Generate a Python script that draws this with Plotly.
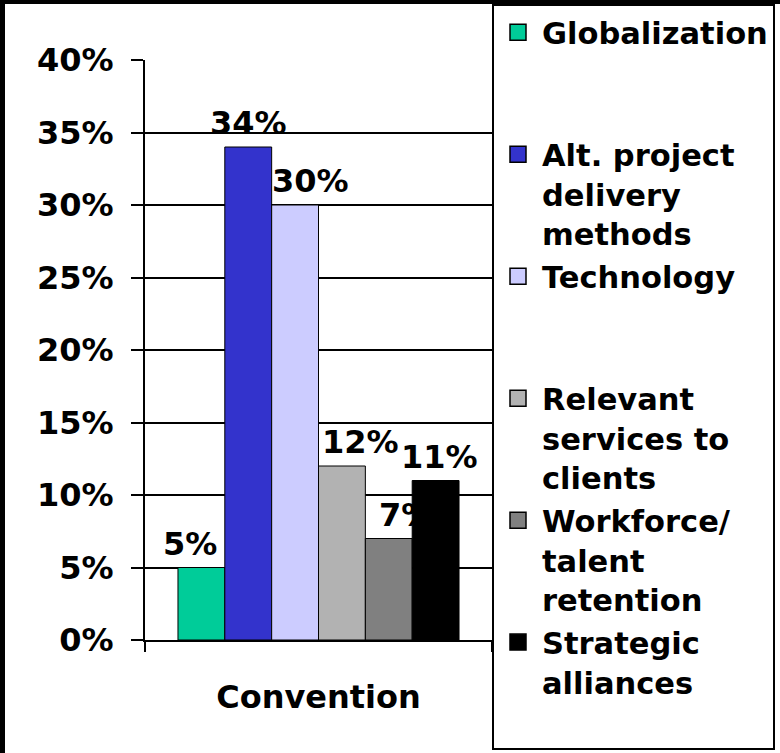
import plotly.graph_objects as go

# ---- data ----
CATEGORIES = ["Convention"]
SERIES = [
    "Globalization",
    "Alt. project delivery methods",
    "Technology",
    "Relevant services to clients",
    "Workforce/ talent retention",
    "Strategic alliances",
]
# legend text as it wraps in the original (each slot is three lines tall)
LEGEND_LINES = [
    ["Globalization"],
    ["Alt. project", "delivery", "methods"],
    ["Technology"],
    ["Relevant", "services to", "clients"],
    ["Workforce/", "talent", "retention"],
    ["Strategic", "alliances"],
]
VALUES = [5, 34, 30, 12, 7, 11]  # percent
COLORS = ["#00CC99", "#3333CC", "#CCCCFF", "#B2B2B2", "#808080", "#000000"]
Y_TICKS = [0, 5, 10, 15, 20, 25, 30, 35, 40]
Y_TICK_TEXT = [f"{v}%" for v in Y_TICKS]

# value labels in the original are nudged sideways a little (pixels)
LABEL_NUDGE = [-11, 0, 15, 19, 17, 4]

# ---- geometry (pixels) ----
W, H = 780, 753
PLOT_L, PLOT_R, PLOT_T, PLOT_B = 145, 492, 60, 640
FONT = "DejaVu Sans"
FS = 32
LEG_FS = 30.5
BARGAP = 0.19


def px_to_paper_x(px):
    return (px - PLOT_L) / (PLOT_R - PLOT_L)


def px_to_paper_y(py):
    return (PLOT_B - py) / (PLOT_B - PLOT_T)


fig = go.Figure()

# bars (no legend, proxies below give the bigger legend squares)
for name, val, col in zip(SERIES, VALUES, COLORS):
    fig.add_trace(go.Bar(
        x=CATEGORIES, y=[val], name=name,
        marker=dict(color=col, line=dict(color="black", width=1)),
        showlegend=False, hoverinfo="skip",
    ))

# value labels, placed at each grouped bar's centre
n = len(VALUES)
slot = (1 - BARGAP) / n
for i, (val, nudge) in enumerate(zip(VALUES, LABEL_NUDGE)):
    fig.add_annotation(
        x=(i - (n - 1) / 2) * slot, y=val, xref="x", yref="y",
        text=f"{val}%", showarrow=False,
        xanchor="center", yanchor="middle", xshift=nudge, yshift=24,
        font=dict(family=FONT, size=FS, color="black", weight="bold"),
    )

# legend entries
for lines, col in zip(LEGEND_LINES, COLORS):
    padded = lines + [" "] * (3 - len(lines))
    fig.add_trace(go.Scatter(
        x=[None], y=[None], mode="markers",
        name="<br>".join(padded),
        marker=dict(symbol="square", size=16, color=col,
                    line=dict(color="black", width=1.5)),
        showlegend=True, hoverinfo="skip",
    ))

fig.update_layout(
    width=W, height=H, autosize=False,
    margin=dict(l=PLOT_L, r=W - PLOT_R, t=PLOT_T, b=H - PLOT_B, pad=0,
                autoexpand=False),
    paper_bgcolor="white", plot_bgcolor="white",
    barmode="group", bargap=BARGAP, bargroupgap=0,
    font=dict(family=FONT, size=FS, color="black", weight="bold"),
    showlegend=True,
    legend=dict(
        xref="container", yref="container",
        x=PLOT_R / W, y=1 - 4 / H, xanchor="left", yanchor="top",
        bgcolor="white", bordercolor="black", borderwidth=2,
        font=dict(family=FONT, size=LEG_FS, color="black", weight="bold"),
        valign="top", traceorder="normal", itemwidth=38,
        maxheight=800,
    ),
    xaxis=dict(
        showline=True, linecolor="black", linewidth=2,
        ticks="outside", tickson="boundaries", ticklen=10, tickwidth=2,
        tickcolor="black", ticklabelstandoff=28,
        showgrid=False, zeroline=False, automargin=False,
    ),
    yaxis=dict(
        range=[0, 40], tickmode="array", tickvals=Y_TICKS, ticktext=Y_TICK_TEXT,
        showline=True, linecolor="black", linewidth=2,
        ticks="outside", ticklen=12, tickwidth=2, tickcolor="black",
        ticklabelstandoff=11,
        showgrid=True, gridcolor="black", gridwidth=1.5,
        zeroline=False, automargin=False,
    ),
)

# outer black frame on the left and top edges
fig.add_shape(type="rect", xref="paper", yref="paper",
              x0=px_to_paper_x(0), x1=px_to_paper_x(5),
              y0=px_to_paper_y(H), y1=px_to_paper_y(0),
              fillcolor="black", line=dict(width=0), layer="above")
fig.add_shape(type="rect", xref="paper", yref="paper",
              x0=px_to_paper_x(0), x1=px_to_paper_x(W),
              y0=px_to_paper_y(4), y1=px_to_paper_y(0),
              fillcolor="black", line=dict(width=0), layer="above")

# drop the page's default body margin so the figure sits at (0, 0)
fig.write_html("out.html", config={"displayModeBar": False},
               post_script="document.body.style.margin='0';")
